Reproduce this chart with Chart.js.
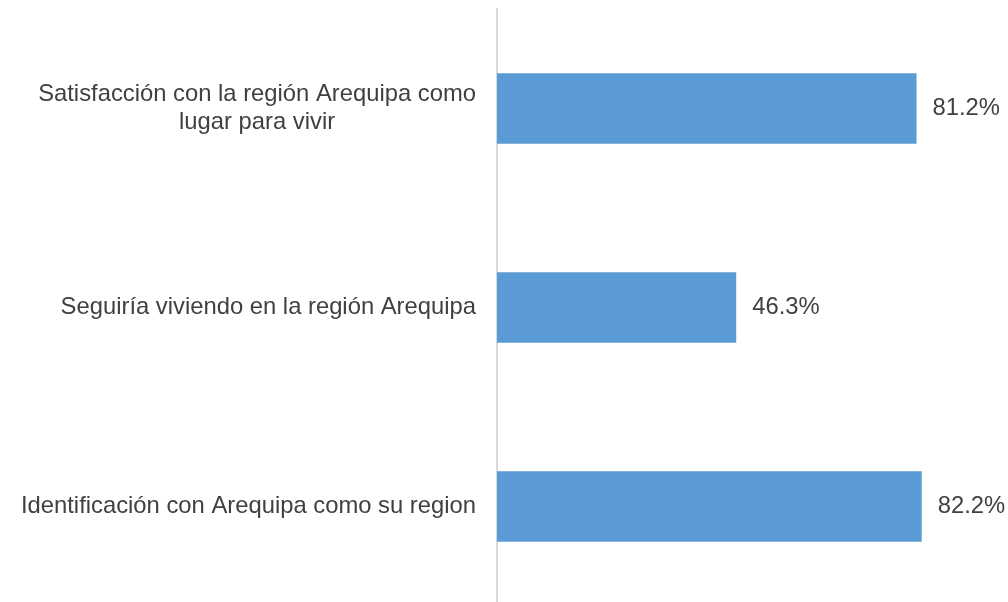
<!DOCTYPE html>
<html>
<head>
<meta charset="utf-8">
<script src="https://cdn.jsdelivr.net/npm/chart.js@4/dist/chart.umd.min.js"></script>
<style>
  html, body { margin: 0; padding: 0; background: #fff; overflow: hidden; }
  #wrap { width: 1008px; height: 602px; overflow: hidden; }
</style>
</head>
<body>
<div id="wrap"><canvas id="chart" width="1008" height="606"></canvas></div>
<script>
// ── Data ──────────────────────────────────────
const categories = [
  ['Satisfacción con la región Arequipa como', 'lugar para vivir'],
  ['Seguiría viviendo en la región Arequipa'],
  ['Identificación con Arequipa como su region']
];
const values = [81.2, 46.3, 82.2];

const FONT = "'Liberation Sans', Arial, sans-serif";
const TEXT = '#404040';

// ── Labels plugin: category text + value labels ──
const labelsPlugin = {
  id: 'labelsPlugin',
  afterDatasetsDraw(chart) {
    const { ctx, scales: { y }, chartArea } = chart;
    const meta = chart.getDatasetMeta(0);
    ctx.save();
    ctx.fillStyle = TEXT;
    ctx.font = `23.8px ${FONT}`;
    ctx.textBaseline = 'middle';

    const lineH = 28;
    const rightEdge = chartArea.left - 21;
    categories.forEach((lines, i) => {
      const cy = y.getPixelForValue(i);
      const widest = Math.max(...lines.map(l => ctx.measureText(l).width));
      const startY = cy - (lines.length - 1) * lineH / 2;
      lines.forEach((l, j) => {
        ctx.textAlign = 'center';
        ctx.fillText(l, rightEdge - widest / 2, startY + j * lineH);
      });
    });

    ctx.textAlign = 'left';
    meta.data.forEach((bar, i) => {
      ctx.fillText(values[i].toFixed(1) + '%', bar.x + 16, bar.y);
    });
    ctx.restore();
  }
};

new Chart(document.getElementById('chart'), {
  type: 'bar',
  data: {
    labels: categories.map(c => c.join(' ')),
    datasets: [{
      data: values,
      backgroundColor: '#5B9BD5',
      borderWidth: 0,
      barPercentage: 0.354,
      categoryPercentage: 1
    }]
  },
  plugins: [labelsPlugin],
  options: {
    indexAxis: 'y',
    responsive: false,
    animation: false,
    layout: { padding: { top: 9, bottom: 0, left: 497, right: 46 } },
    plugins: { legend: { display: false }, tooltip: { enabled: false } },
    scales: {
      x: { display: false, min: 0, max: 90 },
      y: {
        ticks: { display: false },
        grid: { display: false, drawTicks: false },
        border: { color: '#d9d9d9', width: 2 }
      }
    }
  }
});
</script>
</body>
</html>
